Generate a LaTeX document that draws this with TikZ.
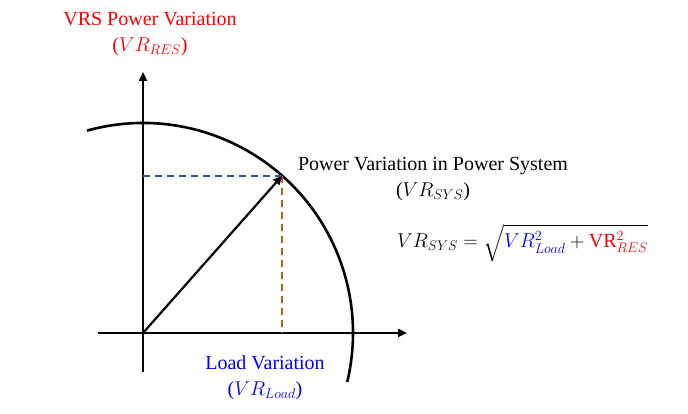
\RequirePackage{fix-cm}
\documentclass[tikz,border=0pt]{standalone}
\usepackage{amsmath}
\usepackage{fontspec}
\setmainfont{Liberation Serif}
\usetikzlibrary{arrows.meta,calc}
\definecolor{dashblue}{RGB}{47,85,151}
\definecolor{dashorange}{RGB}{197,90,17}
\begin{document}
\begin{tikzpicture}[x=1pt,y=1pt,
        axis/.style={line width=2.6pt,-{Triangle[length=9pt,width=8pt]}},
        lbl/.style={font=\fontsize{20}{26}\selectfont, align=center, inner sep=0pt}]
        \useasboundingbox (0,0) rectangle (688,414);

        \coordinate (O) at (143,81);
        \coordinate (P) at ($(O)+(48.5:210)$);

        \draw[axis] (98,81) -- (407,81);
        \draw[axis] (143,42) -- (143,342);
        \draw[line width=2.6pt] ($(O)+(105.5:210)$) arc[start angle=105.5, end angle=-13.5, radius=210];

        \draw[dashblue, line width=1.8pt, dash pattern=on 7pt off 5pt] (O |- P) -- (P);
        \draw[dashorange, line width=1.8pt, dash pattern=on 7pt off 5pt] (P) -- (P |- O);
        \draw[line width=2.2pt, -{Triangle[length=9pt,width=8pt]}] (O) -- (P);

        \node[lbl, text=red] (res) at (150,380) {VRS Power Variation\\($VR_{RES}$)};
        \node[lbl] (sys) at (433,235) {Power Variation in Power System\\($VR_{SYS}$)};
        \node[lbl, text=blue] (load) at (265,36) {Load Variation\\($VR_{Load}$)};
        \node[lbl, anchor=west] (eq) at (397,171) {$VR_{SYS}=\sqrt{\rule[-10pt]{0pt}{26pt}{\color{blue}VR_{Load}^2}+{\color{red}\mathrm{VR}_{RES}^2}}$};

    \end{tikzpicture}
\end{document}
